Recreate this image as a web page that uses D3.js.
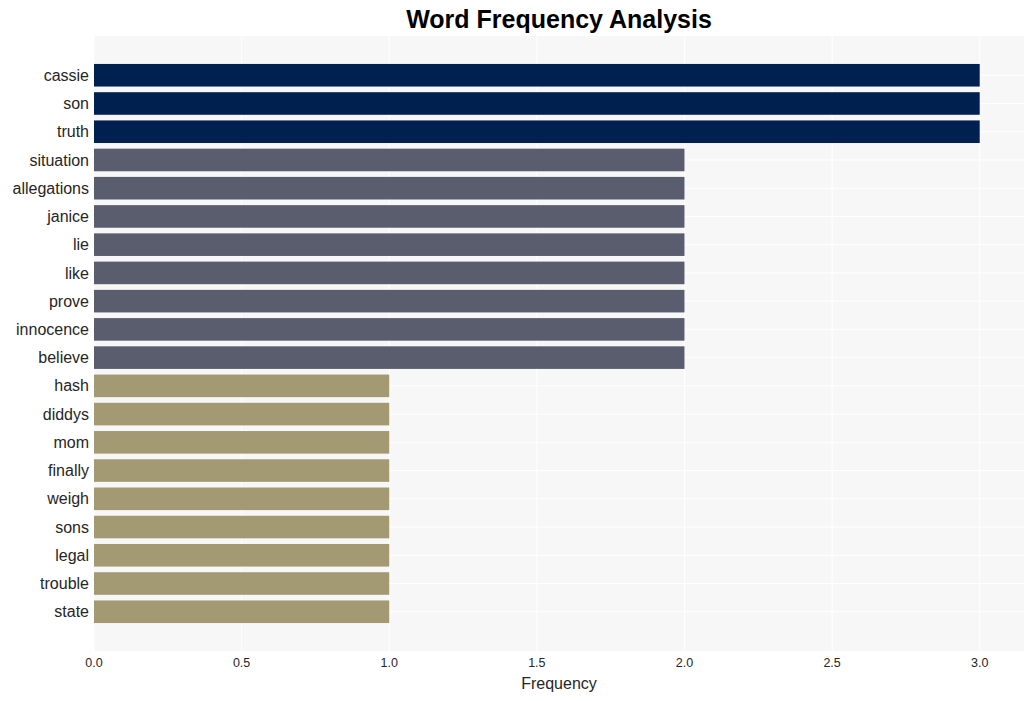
<!DOCTYPE html>
<html><head><meta charset="utf-8">
<script src="https://cdn.jsdelivr.net/npm/d3@7"></script>
<style>body{margin:0;background:#fff;} text{font-family:"Liberation Sans",Arial,sans-serif;}</style>
</head><body>
<svg id="c" width="1034" height="701"></svg>
<script>
const words = ["cassie","son","truth","situation","allegations","janice","lie","like","prove","innocence","believe","hash","diddys","mom","finally","weigh","sons","legal","trouble","state"];
const counts = [3,3,3,2,2,2,2,2,2,2,2,1,1,1,1,1,1,1,1,1];
const xTicks = [0,0.5,1.0,1.5,2.0,2.5,3.0];
const colorFor = {3:"#00214f",2:"#595d6d",1:"#a39a73"};

const svg = d3.select("#c");
const L=94,R=1024,T=36,B=651;
const x = d3.scaleLinear().domain([0,3.15]).range([L,R]);
const y = d3.scaleLinear().domain([-1.39,20.39]).range([T,B]);

svg.append("rect").attr("x",L).attr("y",T).attr("width",R-L).attr("height",B-T).attr("fill","#f7f7f7");
svg.append("g").selectAll("line").data(xTicks).join("line")
  .attr("x1",d=>x(d)).attr("x2",d=>x(d)).attr("y1",T).attr("y2",B)
  .attr("stroke","#ffffff").attr("stroke-width",1);
svg.append("g").selectAll("line").data(words).join("line")
  .attr("x1",L).attr("x2",R).attr("y1",(d,i)=>y(i)).attr("y2",(d,i)=>y(i))
  .attr("stroke","#ffffff").attr("stroke-width",1);

svg.append("g").selectAll("rect").data(words).join("rect")
  .attr("x",x(0)).attr("y",(d,i)=>y(i-0.4)).attr("height",(d,i)=>y(i+0.4)-y(i-0.4))
  .attr("width",(d,i)=>x(counts[i])-x(0)).attr("fill",(d,i)=>colorFor[counts[i]]);

svg.append("g").selectAll("text").data(words).join("text")
  .attr("x",L-5).attr("y",(d,i)=>y(i)).attr("dy","0.35em").attr("text-anchor","end")
  .attr("font-size",16).attr("fill","#262626").text(d=>d);

svg.append("g").selectAll("text").data(xTicks).join("text")
  .attr("x",d=>x(d)).attr("y",B+16).attr("text-anchor","middle")
  .attr("font-size",12.5).attr("fill","#262626").text(d=>d.toFixed(1));

svg.append("text").attr("x",(L+R)/2).attr("y",689).attr("text-anchor","middle")
  .attr("font-size",16).attr("fill","#262626").text("Frequency");
svg.append("text").attr("x",(L+R)/2).attr("y",28).attr("text-anchor","middle")
  .attr("font-size",25).attr("font-weight","bold").attr("fill","#000").text("Word Frequency Analysis");
</script>
</body></html>
